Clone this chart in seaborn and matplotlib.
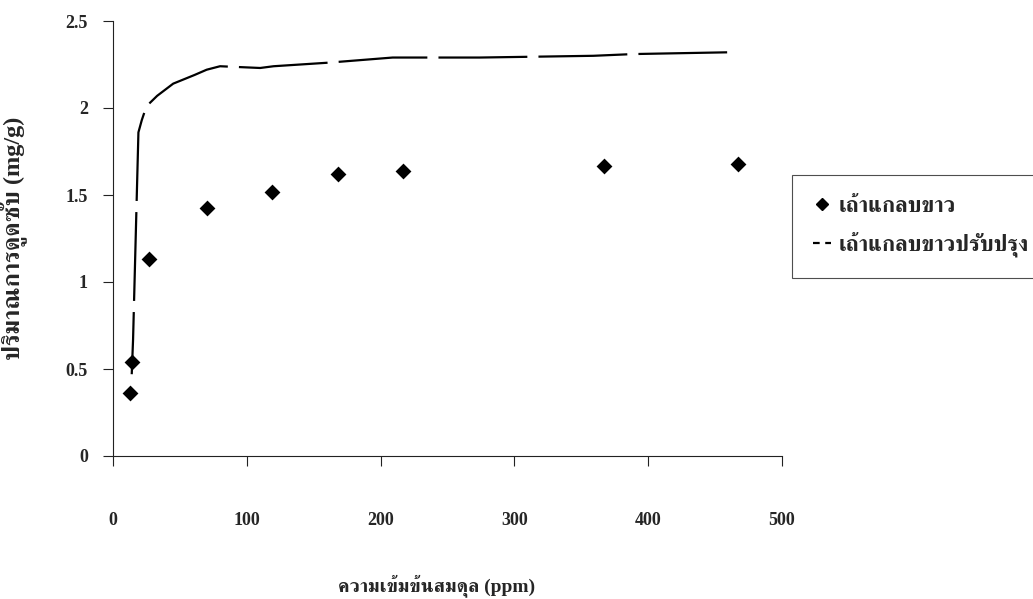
import matplotlib
matplotlib.use('Agg')
import matplotlib.pyplot as plt
from matplotlib.lines import Line2D
import seaborn as sns
import pandas as pd

# ข้อมูลอ่านจากกราฟ
# เถ้าแกลบขาว (จุด)
conc_raw = [12.7, 14, 27, 70, 119, 168, 217, 367, 467]
q_raw = [0.36, 0.54, 1.13, 1.425, 1.52, 1.62, 1.64, 1.667, 1.68]
# เถ้าแกลบขาวปรับปรุง (เส้นประ)
conc_mod = [14, 15, 19, 21.5, 25, 33, 45, 61, 70, 80, 110, 120, 160, 209, 274, 359, 389, 459]
q_mod = [0.47, 0.67, 1.86, 1.93, 2.01, 2.07, 2.14, 2.19, 2.22, 2.24, 2.23, 2.24, 2.26, 2.29, 2.29, 2.30, 2.31, 2.32]

x_ticks = [0, 100, 200, 300, 400, 500]
y_ticks = [0, 0.5, 1, 1.5, 2, 2.5]
label_raw = 'เถ้าแกลบขาว'
label_mod = 'เถ้าแกลบขาวปรับปรุง'

df_raw = pd.DataFrame({'x': conc_raw, 'y': q_raw})
df_mod = pd.DataFrame({'x': conc_mod, 'y': q_mod})

sns.set_style('white')
fonts = ['Liberation Serif', 'FreeSerif', 'Noto Serif Thai', 'Noto Sans Thai', 'DejaVu Sans']
plt.rcParams['font.family'] = fonts
plt.rcParams['font.weight'] = 'bold'

fig = plt.figure(figsize=(10.33, 5.99), dpi=100)
ax = fig.add_axes([113 / 1033, 1 - 456 / 599, 669 / 1033, 435 / 599])

sns.lineplot(data=df_mod, x='x', y='y', ax=ax, color='black', linewidth=1.6,
             sort=False, estimator=None, dashes=False)
ax.lines[-1].set_linestyle((12, (40, 5)))
sns.scatterplot(data=df_raw, x='x', y='y', ax=ax, marker='D', s=65,
                color='black', edgecolor='black', linewidth=0, zorder=3)

ax.set_xlim(0, 500)
ax.set_ylim(0, 2.5)
ax.set_xticks(x_ticks)
ax.set_yticks(y_ticks)
ax.set_xticklabels([str(v) for v in x_ticks])
ax.set_yticklabels(['0', '0.5', '1', '1.5', '2', '2.5'])

for s in ['top', 'right']:
    ax.spines[s].set_visible(False)
for s in ['left', 'bottom']:
    ax.spines[s].set_linewidth(0.8)
    ax.spines[s].set_color('#222222')

ax.tick_params(axis='y', direction='out', length=7, width=0.8, pad=11,
               labelsize=13, left=True, color='#222222')
ax.tick_params(axis='x', direction='out', length=7, width=0.8, pad=33,
               labelsize=13, bottom=True, color='#222222')
for lab in ax.get_xticklabels() + ax.get_yticklabels():
    lab.set_fontweight('bold')

ax.set_xlabel('ความเข้มข้นสมดุล (ppm)', fontsize=14, fontweight='bold')
ax.set_ylabel('ปริมาณการดูดซับ (mg/g)', fontsize=17.5, fontweight='bold')
ax.xaxis.set_label_coords(0.484, -0.272)
ax.yaxis.set_label_coords(-0.128, 0.5)

handles = [
    Line2D([], [], marker='D', color='black', linestyle='none', markersize=6),
    Line2D([], [], color='black', linewidth=1.6, linestyle=(0, (3, 2.5))),
]
leg = ax.legend(handles, [label_raw, label_mod], loc='upper left',
                bbox_to_anchor=(792 / 1033, 1 - 175 / 599),
                bbox_transform=fig.transFigure, frameon=True, fancybox=False,
                prop={'size': 16, 'weight': 'bold'}, handlelength=0.8,
                handletextpad=0.35, labelspacing=0.68, borderpad=0.95,
                borderaxespad=0)
leg.get_frame().set_edgecolor('#222222')
leg.get_frame().set_linewidth(0.8)

fig.savefig('out.png', dpi=100)
